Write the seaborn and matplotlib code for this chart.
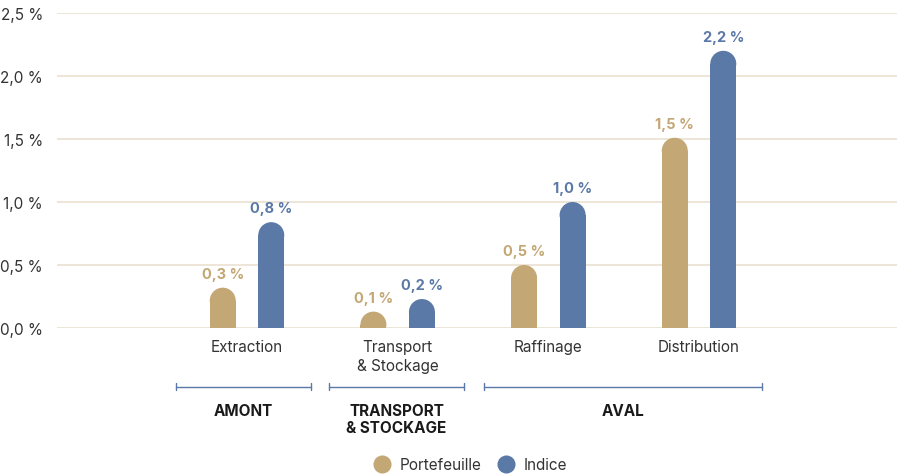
import pandas as pd
import seaborn as sns
import matplotlib.pyplot as plt
from matplotlib.patches import Ellipse
from matplotlib.lines import Line2D

# data
categories = ["Extraction", "Transport\n& Stockage", "Raffinage", "Distribution"]
portefeuille = [0.32, 0.13, 0.50, 1.51]
indice = [0.84, 0.23, 1.00, 2.20]
series = ["Portefeuille", "Indice"]
groups = ["AMONT", "TRANSPORT\n& STOCKAGE", "AVAL"]
group_spans = [(-0.47, 0.425), (0.544, 1.44), (1.573, 3.418)]
yticks = [0.0, 0.5, 1.0, 1.5, 2.0, 2.5]

gold = "#C3A774"
blue = "#5B79A6"
grid_col = "#EAE0CF"
text_col = "#333333"

df = pd.DataFrame({
    "cat": categories * 2,
    "val": portefeuille + indice,
    "serie": [series[0]] * 4 + [series[1]] * 4,
})

sns.set_theme(style="white")
plt.rcParams["font.family"] = ["Inter", "DejaVu Sans"]

fig = plt.figure(figsize=(8.97, 4.77), dpi=100)
ax = fig.add_axes([57 / 897, 148 / 477, 840 / 897, 315 / 477])

sns.barplot(data=df, x="cat", y="val", hue="serie", order=categories,
            palette=[gold, blue], width=0.644, gap=0.464, legend=False,
            linewidth=0, saturation=1, ax=ax)

ax.set_xlim(-1.261, 4.314)
ax.set_ylim(0, 2.5)
ax.set_yticks(yticks)
ax.set_yticklabels([f"{v:.1f} %".replace(".", ",") for v in yticks],
                   fontsize=11, color=text_col)
ax.tick_params(axis="y", length=0, pad=10)
ax.tick_params(axis="x", length=0, pad=8, labelsize=11, labelcolor=text_col)
for t in ax.get_xticklabels():
    t.set_linespacing(1.3)
ax.set_xlabel("")
ax.set_ylabel("")
for s in ax.spines.values():
    s.set_visible(False)
ax.yaxis.grid(True, color=grid_col, linewidth=1.2)
ax.set_axisbelow(True)

# rounded tops
px_per_y = ax.transData.transform((0, 1))[1] - ax.transData.transform((0, 0))[1]
for p in list(ax.patches):
    x0, w, h = p.get_x(), p.get_width(), p.get_height()
    col = p.get_facecolor()
    px_w = ax.transData.transform((w, 0))[0] - ax.transData.transform((0, 0))[0]
    r = (px_w / 2) / px_per_y
    p.set_height(h - r)
    ax.add_patch(Ellipse((x0 + w / 2, h - r), w, 2 * r, facecolor=col,
                         linewidth=0))
    lab_col = gold if abs(col[0] - 0.765) < 0.05 else blue
    ax.annotate(f"{h:.1f} %".replace(".", ","), (x0 + w / 2, h),
                xytext=(0, 5), textcoords="offset points", ha="center",
                va="bottom", fontsize=10.5, fontweight="bold", color=lab_col)

# group brackets
yb = -0.468
for (a, b), g in zip(group_spans, groups):
    ax.plot([a, b], [yb, yb], color=blue, linewidth=1, clip_on=False)
    for xe in (a, b):
        ax.plot([xe, xe], [yb - 0.028, yb + 0.028], color=blue, linewidth=1,
                clip_on=False)
    ax.text((a + b) / 2, -0.595, g, ha="center", va="top", fontsize=11,
            fontweight="bold", color="#1a1a1a", linespacing=1.2)

handles = [Line2D([], [], marker="o", linestyle="", markersize=13,
                  markerfacecolor=c, markeredgewidth=0) for c in (gold, blue)]
fig.legend(handles, series, loc="center", bbox_to_anchor=(0.521, 0.024),
           ncol=2, frameon=False, fontsize=11, handletextpad=0.15,
           columnspacing=0.6, labelcolor=text_col)

fig.savefig("out.png", dpi=100)
